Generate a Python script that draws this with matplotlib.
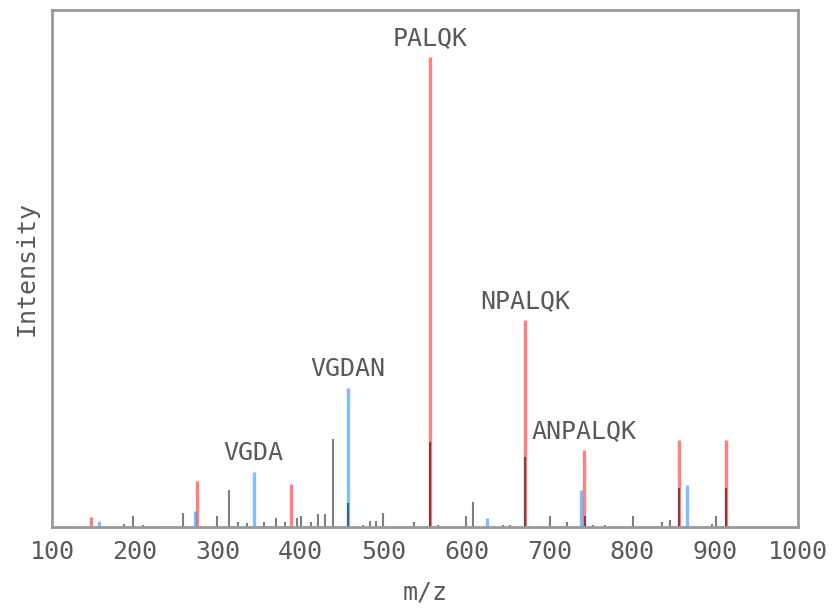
import matplotlib.pyplot as plt

# spectrum peaks (m/z, relative intensity)
peak_mz = [186.9, 198.1, 209.8, 240.0, 258.4, 299.4, 313.9, 324.8, 334.9, 356.1,
           369.9, 381.1, 395.2, 400.4, 412.1, 421.3, 429.4, 439.4, 457.5, 475.2,
           483.6, 490.9, 499.7, 537.1, 556.3, 565.7, 599.1, 607.6, 644.1, 652.5,
           670.4, 700.8, 720.9, 743.0, 752.6, 767.1, 800.5, 835.5, 845.5, 856.4,
           895.8, 900.7, 913.5]
peak_int = [0.6, 2.3, 0.4, 0.3, 3.0, 2.3, 7.9, 1.1, 0.9, 1.1,
            1.9, 1.1, 1.9, 2.3, 1.1, 2.8, 2.8, 18.7, 5.1, 0.4,
            1.3, 1.3, 3.0, 1.1, 18.1, 0.4, 2.3, 5.3, 0.4, 0.4,
            14.9, 2.3, 1.1, 2.3, 0.4, 0.4, 2.3, 1.1, 1.5, 8.3,
            0.6, 2.3, 8.3]

# y ions (red)
y_mz = [147.1, 275.2, 388.3, 556.3, 670.4, 741.4, 856.4, 913.5]
y_int = [2.2, 9.8, 9.1, 100.0, 44.0, 16.4, 18.5, 18.5]
y_labels = ["", "", "", "PALQK", "NPALQK", "ANPALQK", "", ""]

# b ions (blue)
b_mz = [157.1, 272.1, 343.2, 457.2, 625.3, 738.4, 866.4]
b_int = [1.3, 3.5, 11.8, 29.5, 1.9, 7.9, 9.0]
b_labels = ["", "", "VGDA", "VGDAN", "", "", ""]

txt_color = "#5a5a5a"
font = "DejaVu Sans Mono"
fs = 18

fig = plt.figure(figsize=(8.4, 6.1), dpi=100)
ax = fig.add_axes([0.062, 0.136, 0.888, 0.848])

ax.vlines(y_mz, 0, y_int, color="red", alpha=0.5, lw=2.4)
ax.vlines(b_mz, 0, b_int, color="#0080ff", alpha=0.5, lw=2.4)
ax.vlines(peak_mz, 0, peak_int, color="black", alpha=0.5, lw=1.5)

for mz, inten, lab in zip(y_mz + b_mz, y_int + b_int, y_labels + b_labels):
    if lab:
        ax.annotate(lab, (mz, inten), xytext=(0, 5), textcoords="offset points",
                    ha="center", va="bottom", fontsize=fs, color=txt_color,
                    family=font)

ax.set_xlim(100, 1000)
ax.set_ylim(0, 110)
ax.set_xticks(range(100, 1001, 100))
ax.set_xticklabels([str(v) for v in range(100, 1001, 100)],
                   fontsize=fs, color=txt_color, family=font)
ax.set_yticks([])
ax.tick_params(axis="x", length=0, pad=9)
for s in ax.spines.values():
    s.set_color("#999999")
    s.set_linewidth(2)

ax.set_xlabel("m/z", fontsize=fs, color=txt_color, family=font, labelpad=12)
ax.set_ylabel("Intensity", fontsize=fs, color=txt_color, family=font, labelpad=10)

fig.savefig("out.png", dpi=100)
